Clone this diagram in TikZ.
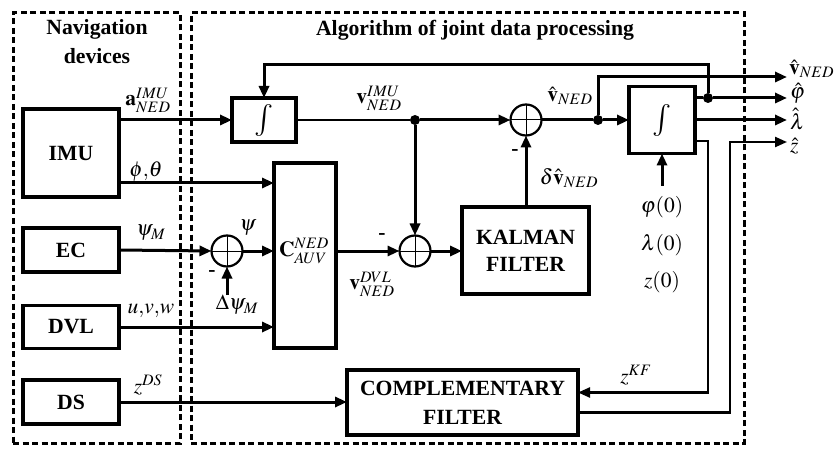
\documentclass[tikz,border=0pt]{standalone}
\usepackage{mathptmx}
\usepackage{fontspec}
\setmainfont{Liberation Serif}
\usetikzlibrary{arrows.meta,calc}
\begin{document}
\begin{tikzpicture}[x=1pt,y=-1pt,
  font=\fontsize{21.5}{27}\selectfont,
  every node/.style={inner sep=0pt, outer sep=0pt},
  blk/.style={draw, line width=3.5pt, font=\fontsize{21.7}{27}\selectfont\bfseries, align=center},
  integ/.style={draw, line width=3.5pt, font=\fontsize{32}{34}\selectfont},
  frame/.style={draw, line width=3pt, dash pattern=on 6pt off 3.5pt},
  title/.style={font=\fontsize{21.7}{29}\selectfont\bfseries, align=center},
  sumc/.style={draw, circle, line width=2.2pt, minimum size=31pt,
    path picture={\draw[line width=1pt]
      ([xshift=-15pt]path picture bounding box.center) -- ([xshift=15pt]path picture bounding box.center)
      ([yshift=-15pt]path picture bounding box.center) -- ([yshift=15pt]path picture bounding box.center);}},
  dot/.style={circle, fill, minimum size=10pt},
  arr/.style={-{Triangle[length=12pt,width=10pt]}, line width=3pt},
  thinarr/.style={-{Triangle[length=12pt,width=10pt]}, line width=2.3pt},
  thin/.style={line width=2.3pt},
  lbl/.style={font=\fontsize{21.5}{27}\selectfont},
  sgn/.style={font=\fontsize{21.5}{27}\selectfont\bfseries}
]
\useasboundingbox (0,0) rectangle (835,449);

% frames
\node[frame, minimum width=167pt, minimum height=430pt] (navf) at (96.5,228) {};
\node[frame, minimum width=553pt, minimum height=430pt] (algf) at (467.5,228) {};
\node[title] (navt) at (97,42) {Navigation\\devices};
\node[title] (algt) at (475,30) {Algorithm of joint data processing};

% devices
\node[blk, minimum width=96pt, minimum height=88pt] (imu) at (71,153) {IMU};
\node[blk, minimum width=96pt, minimum height=44pt] (ec) at (71,250) {EC};
\node[blk, minimum width=96pt, minimum height=43pt] (dvl) at (71,327) {DVL};
\node[blk, minimum width=96pt, minimum height=44pt] (ds) at (71,402) {DS};

% algorithm blocks
\node[integ, minimum width=64pt, minimum height=44pt] (int1) at (264,120) {$\int$};
\node[blk, minimum width=62pt, minimum height=185pt] (cbox) at (305,255.5) {};
\node[lbl] (clab) at (304,251) {$\mathbf{C}^{NED}_{AUV}$};
\node[sumc] (sum3) at (227,251) {};
\node[sumc] (sum2) at (415,251) {};
\node[sumc] (sum1) at (526,120) {};
\node[blk, minimum width=127pt, minimum height=87pt] (kf) at (525.5,250.5) {KALMAN\\FILTER};
\node[integ, minimum width=66pt, minimum height=67pt] (int2) at (662,120) {$\int$};
\node[blk, minimum width=231pt, minimum height=65pt, font=\fontsize{21.7}{29}\selectfont\bfseries] (cf) at (462.5,402.5) {COMPLEMENTARY\\FILTER};

% dots
\node[dot] (d1) at (415,120) {};
\node[dot] (d2) at (598,120) {};
\node[dot] (d3) at (708,98) {};

% helper coordinates
\coordinate (yphi) at (0,183);
\coordinate (fb) at (264,65);
\coordinate (o1) at (787,77);
\coordinate (o2) at (787,98);
\coordinate (o3) at (787,120);
\coordinate (o4) at (787,142);
\coordinate (zkf) at (708,141);
\coordinate (zc) at (730,142);
\coordinate (i0) at (662,186);

% labels
\node[lbl] (la) at (148,100) {$\mathbf{a}^{IMU}_{NED}$};
\node[lbl] (lpt) at (146,172) {$\phi{,}\theta$};
\node[lbl] (lpsim) at (151,233) {$\psi_M$};
\node[lbl] (luvw) at (151,311) {$u{,}v{,}w$};
\node[lbl] (lzds) at (148,385) {$z^{DS}$};
\node[lbl] (lpsi) at (248,228) {$\psi$};
\node[lbl] (ldpsi) at (237,305) {$\Delta\psi_M$};
\node[sgn] (m3) at (212,274) {-};
\node[sgn] (m2) at (382,237) {-};
\node[sgn] (m1) at (515,153) {-};
\node[lbl] (lvdvl) at (372,284) {$\mathbf{v}^{DVL}_{NED}$};
\node[lbl] (lvimu) at (379,98) {$\mathbf{v}^{IMU}_{NED}$};
\node[lbl] (lvhat) at (570,96) {$\hat{\mathbf{v}}_{NED}$};
\node[lbl] (ldv) at (569,178) {$\delta\hat{\mathbf{v}}_{NED}$};
\node[lbl] (lzkf) at (636,375) {$z^{KF}$};
\node[lbl] (lphi0) at (662,207) {$\varphi(0)$};
\node[lbl] (llam0) at (662,245) {$\lambda(0)$};
\node[lbl] (lz0) at (662,282) {$z(0)$};
\node[lbl, anchor=west] (ov) at (789,69) {$\hat{\mathbf{v}}_{NED}$};
\node[lbl, anchor=west] (ophi) at (790,93) {$\hat{\varphi}$};
\node[lbl, anchor=west] (olam) at (790,119) {$\hat{\lambda}$};
\node[lbl, anchor=west] (oz) at (790,146) {$\hat{z}$};

% connectors
\draw[arr] (imu.east |- int1.west) -- (int1.west);
\draw[arr] (imu.east |- yphi) -- (cbox.west |- yphi);
\draw[arr] (ec.east) -- (sum3.west);
\draw[arr] (sum3.east) -- (cbox.west |- sum3.east);
\draw[arr] (sum3 |- ldpsi.north) -- (sum3.south);
\draw[arr] (dvl.east) -- (cbox.west |- dvl.east);
\draw[arr] (ds.east) -- (cf.west |- ds.east);
\draw[arr] (cbox.east |- sum2.west) -- (sum2.west);
\draw[arr] (sum2.east) -- (kf.west |- sum2.east);
\draw[thin] (int1.east) -- (d1);
\draw[arr] (d1) -- (sum1.west);
\draw[arr] (d1) -- (sum2.north);
\draw[arr] (kf.north -| sum1) -- (sum1.south);
\draw[arr] (sum1.east) -- (d2) -- (int2.west);
\draw[arr] (d2) |- (o1);
\draw[arr] (int2.east |- d3) -- (d3) -- (o2);
\draw[arr] (d3) |- (fb) -- (int1.north);
\draw[arr] (int2.east) -- (o3);
\draw[arr] (i0) -- (int2.south);
\draw[thinarr] (int2.east |- zkf) -- (zkf) |- ([yshift=10pt]cf.east);
\draw[thinarr] ([yshift=-10pt]cf.east) -| (zc) -- (o4);
\end{tikzpicture}
\end{document}
